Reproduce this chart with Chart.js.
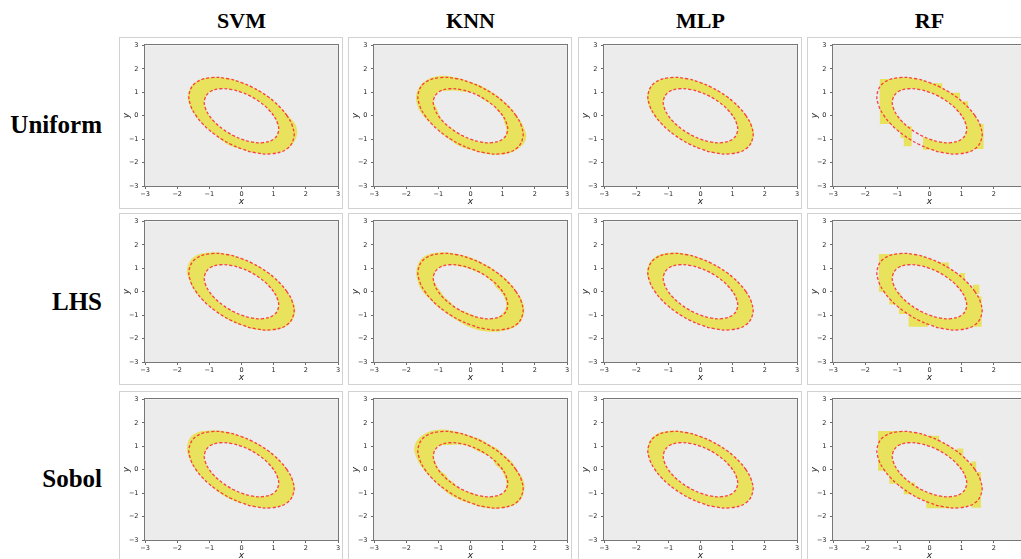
<!DOCTYPE html>
<html>
<head>
<meta charset="utf-8">
<script src="https://cdn.jsdelivr.net/npm/chart.js@4.4.0/dist/chart.umd.min.js"></script>
<style>
  html, body { margin: 0; padding: 0; background: #fff; }
  body { width: 1021px; height: 559px; position: relative; overflow: hidden; }
  .frame { position: absolute; width: 224px; height: 172px; box-sizing: border-box; border: 1px solid #d2d2d2; background: #fff; }
  .frame canvas { display: block; }
  .coltitle { position: absolute; top: 10px; width: 140px; margin-left: -70px; text-align: center;
              font: bold 22px/22px "Liberation Serif", serif; color: #000; }
  .rowlabel { position: absolute; left: 0; width: 102px; text-align: right;
              font: bold 25px/25px "Liberation Serif", serif; color: #000; }
</style>
</head>
<body>
<script>
// ---- grid labels ----
const methods  = ['SVM', 'KNN', 'MLP', 'RF'];
const samplers = ['Uniform', 'LHS', 'Sobol'];
const axisTicks = [-3, -2, -1, 0, 1, 2, 3];

// ---- true class boundaries: x^2 + xy + y^2 = 1 (inner) and = 2 (outer), every 15 degrees ----
const innerContour = [
  [1.0000, 0.0000], [0.8639, 0.2315], [0.7235, 0.4177], [0.5774, 0.5774], [0.4177, 0.7235], [0.2315, 0.8639],
  [0.0000, 1.0000], [-0.2989, 1.1154], [-0.6640, 1.1501], [-1.0000, 1.0000], [-1.1501, 0.6640], [-1.1154, 0.2989],
  [-1.0000, 0.0000], [-0.8639, -0.2315], [-0.7235, -0.4177], [-0.5774, -0.5774], [-0.4177, -0.7235], [-0.2315, -0.8639],
  [0.0000, -1.0000], [0.2989, -1.1154], [0.6640, -1.1501], [1.0000, -1.0000], [1.1501, -0.6640], [1.1154, -0.2989]
];
const outerContour = [
  [1.4142, 0.0000], [1.2217, 0.3274], [1.0232, 0.5907], [0.8165, 0.8165], [0.5907, 1.0232], [0.3274, 1.2217],
  [0.0000, 1.4142], [-0.4227, 1.5774], [-0.9390, 1.6265], [-1.4142, 1.4142], [-1.6265, 0.9390], [-1.5774, 0.4227],
  [-1.4142, 0.0000], [-1.2217, -0.3274], [-1.0232, -0.5907], [-0.8165, -0.8165], [-0.5907, -1.0232], [-0.3274, -1.2217],
  [0.0000, -1.4142], [0.4227, -1.5774], [0.9390, -1.6265], [1.4142, -1.4142], [1.6265, -0.9390], [1.5774, -0.4227]
];

// ---- predicted class-1 region: radial extent of the predicted band relative to the
//      true boundary, at the same 24 directions (order: SVM, KNN, MLP, RF) ----
const ONE = [1,1,1,1,1,1,1,1,1,1,1,1,1,1,1,1,1,1,1,1,1,1,1,1];

const uniformOuter = [
  [1.03,1,1,1,1,1,1,1.01,1.01,1.01,1.02,1.02,1.01,1,1,1,1.03,1.05,1.01,1,1,1,1.04,1.08],
  [1.02,1.02,1.02,1.03,1.03,1.04,1.02,1.03,1.04,1.02,1.03,1.05,1.04,1.0,1.0,1.02,1.03,1.06,1.03,1.02,1.02,1.02,1.06,1.04],
  [1,1,1,1,1,1,1,1,1,1,1.01,1.02,1.01,1,1,1,1,1,1,1,1,1,1.01,1.02],
  ONE
];
const uniformInner = [
  ONE,
  [1,0.97,1,0.96,0.95,1,1,0.93,0.93,1,1,0.93,0.96,1,1,0.96,1,1,1,1,1,1,0.97,0.94],
  ONE,
  ONE
];
const lhsOuter = [
  [1,1,1,1,1,1,1,1.01,1.03,1.05,1.04,1.02,1.01,1,1,1,1.01,1.02,1.01,1.02,1.01,1.01,1.02,1.02],
  [1.02,1.02,1.03,1.02,1.03,1.02,1.03,1.02,1.03,1.04,1.03,1.04,1.05,1.02,1.03,1.02,1.03,1.05,1.08,1.07,1.03,1.02,1.02,1.03],
  [1,1,1,1,1,1,1,1.01,1.02,1.02,1.02,1.01,1,1,1,1,1,1,1,1,1,1,1,1],
  ONE
];
const lhsInner = [
  ONE,
  [0.94,0.9,0.96,0.95,1,0.96,0.96,0.95,1,1,1,0.96,0.92,0.95,0.93,0.96,1,0.95,0.95,1,1,0.97,0.96,0.95],
  ONE,
  ONE
];
const sobolOuter = [
  [1,1,1,1,1,1,1,1.01,1.03,1.06,1.04,1.02,1.01,1,1,1.01,1.03,1.03,1.01,1,1,1,1.01,1.01],
  [1.02,1.05,1.03,1.06,1.03,1.05,1.02,1.03,1.05,1.05,1.07,1.05,1.03,1,1.02,1.03,1.06,1.05,1.02,1.03,1.01,1.02,1.02,1.04],
  [1,1,1,1,1,1,1,1.01,1.02,1.02,1.01,1,1,1,1,1,1,1,1,1,1,1,1,1],
  ONE
];
const sobolInner = [
  ONE,
  [0.96,0.9,0.97,1,0.96,0.92,0.97,0.95,0.92,1,1,0.97,0.97,0.9,0.95,0.93,1,1,0.97,1,1,1,0.97,0.95],
  ONE,
  ONE
];

// ---- blocky random-forest cells [x1, y1, x2, y2] ----
const uniformRfYellow = [
  [-1.55, -0.35, -1.25, 1.57], [-1.55, 1.2, -0.85, 1.57],
  [-0.9, -0.95, -0.55, -0.45], [-0.8, -1.3, -0.55, -0.95],
  [1.35, -1.42, 1.68, -0.35], [-0.2, -1.45, 0.1, -1.0],
  [0.05, 1.1, 0.4, 1.38], [0.65, 0.75, 0.95, 0.98], [1.0, 0.35, 1.2, 0.62]
];
const uniformRfGray = [
  [-1.75, -0.5, -1.55, 1.7], [-0.55, -1.35, -0.2, -0.55]
];
const lhsRfYellow = [
  [-1.58, 0.0, -1.25, 1.6], [-1.58, 1.2, -0.85, 1.6],
  [-1.25, -0.55, -0.9, -0.05], [-0.95, -0.95, -0.6, -0.5], [-0.65, -1.5, -0.05, -1.0],
  [1.3, -1.5, 1.62, -0.2], [0.3, 0.95, 0.6, 1.25], [0.95, 0.5, 1.1, 0.8], [1.35, -0.1, 1.55, 0.3]
];
const lhsRfGray = [
  [-1.75, -0.2, -1.58, 1.7]
];
const sobolRfYellow = [
  [-1.6, -0.05, -1.3, 1.65], [-1.6, 1.2, -0.9, 1.65],
  [0.0, 1.15, 0.3, 1.45], [0.85, 0.6, 1.05, 0.9], [1.3, -0.1, 1.45, 0.35],
  [-1.25, -0.6, -0.95, -0.1], [-0.8, -1.05, -0.45, -0.55], [-0.1, -1.65, 0.75, -1.25],
  [1.3, -1.62, 1.6, -0.1]
];
const sobolRfGray = [
  [-1.78, -0.1, -1.6, 1.7]
];

const rowData = [
  { outer: uniformOuter, inner: uniformInner, rfYellow: uniformRfYellow, rfGray: uniformRfGray },
  { outer: lhsOuter,     inner: lhsInner,     rfYellow: lhsRfYellow,     rfGray: lhsRfGray },
  { outer: sobolOuter,   inner: sobolInner,   rfYellow: sobolRfYellow,   rfGray: sobolRfGray }
];

// ---- styling ----
const BG = '#ececec';
const YELLOW = '#e8e25c';
const RED = 'rgba(250, 45, 60, 0.9)';
const frameLeft = [119, 348, 578, 807];
const frameTop = [37, 213, 391];

const scaled = (pts, f) => pts.map((p, i) => ({ x: p[0] * f[i], y: p[1] * f[i] }));
const closed = pts => pts.concat([pts[0]]);
const rectPts = r => [
  { x: r[0], y: r[1] }, { x: r[2], y: r[1] }, { x: r[2], y: r[3] }, { x: r[0], y: r[3] }, { x: r[0], y: r[1] }
];

function fillSet(data, color, order, tension) {
  return { data, showLine: true, fill: 'shape', backgroundColor: color, borderWidth: 0,
           borderColor: color, pointRadius: 0, tension, order };
}
function contourSet(pts) {
  const p = pts.map(q => ({ x: q[0], y: q[1] }));
  const n = p.length;
  const data = [p[n - 1]].concat(p, [p[0], p[1]]);
  const last = data.length - 2;
  return {
    data, showLine: true, fill: false, borderColor: RED, borderWidth: 1.3, borderDash: [3, 2],
    pointRadius: 0, tension: 0.4, order: 0,
    segment: { borderColor: c => (c.p0DataIndex === 0 || c.p0DataIndex === last) ? 'rgba(0,0,0,0)' : undefined }
  };
}

function axis(isX) {
  return {
    type: 'linear', min: -3, max: 3, position: isX ? 'bottom' : 'left',
    afterBuildTicks: s => { s.ticks = axisTicks.map(v => ({ value: v })); },
    ticks: { font: { family: 'DejaVu Sans', size: 6.5 }, color: '#222', padding: isX ? 1 : 3.5,
             maxRotation: 0, autoSkip: false, callback: v => String(v).replace('-', '\u2212') },
    grid: { display: true, drawOnChartArea: false, drawTicks: true, tickLength: 3, tickColor: '#444', tickWidth: 0.8 },
    border: { display: false },
    title: { display: true, text: isX ? 'x' : 'y', color: '#222',
             font: { family: 'DejaVu Sans', size: 9, style: 'italic' },
             padding: isX ? { top: 0, bottom: 1 } : { top: 1.3, bottom: 0 } },
    afterFit: s => { if (isX) s.height = 22; else s.width = 25; }
  };
}

const plotFrame = {
  id: 'plotFrame',
  beforeDraw(chart) {
    const a = chart.chartArea, ctx = chart.ctx;
    ctx.save(); ctx.fillStyle = BG; ctx.fillRect(a.left, a.top, a.right - a.left, a.bottom - a.top); ctx.restore();
  },
  afterDatasetsDraw(chart) {
    const a = chart.chartArea, ctx = chart.ctx;
    ctx.save(); ctx.strokeStyle = '#777'; ctx.lineWidth = 1;
    ctx.strokeRect(Math.round(a.left) - 0.5, Math.round(a.top) - 0.5,
                   Math.round(a.right - a.left) + 1, Math.round(a.bottom - a.top) + 1);
    ctx.restore();
  }
};

// ---- titles ----
methods.forEach((m, c) => {
  const d = document.createElement('div');
  d.className = 'coltitle'; d.textContent = m;
  d.style.left = (frameLeft[c] + 122.5) + 'px';
  document.body.appendChild(d);
});
const rowLabelTop = [112, 289, 466];
samplers.forEach((s, r) => {
  const d = document.createElement('div');
  d.className = 'rowlabel'; d.textContent = s;
  d.style.top = rowLabelTop[r] + 'px';
  document.body.appendChild(d);
});

// ---- panels ----
samplers.forEach((s, r) => {
  methods.forEach((m, c) => {
    const frame = document.createElement('div');
    frame.className = 'frame';
    frame.style.left = frameLeft[c] + 'px';
    frame.style.top = frameTop[r] + 'px';
    const cv = document.createElement('canvas');
    cv.width = 222; cv.height = 170;
    cv.style.width = '222px'; cv.style.height = '170px';
    frame.appendChild(cv);
    document.body.appendChild(frame);

    const rd = rowData[r];
    const datasets = [
      fillSet(closed(scaled(outerContour, rd.outer[c])), YELLOW, 4, 0.4),
      fillSet(closed(scaled(innerContour, rd.inner[c])), BG, 3, 0.4)
    ];
    if (m === 'RF') {
      rd.rfYellow.forEach(b => datasets.push(fillSet(rectPts(b), YELLOW, 2, 0)));
      rd.rfGray.forEach(b => datasets.push(fillSet(rectPts(b), BG, 1, 0)));
    }
    datasets.push(contourSet(outerContour));
    datasets.push(contourSet(innerContour));

    new Chart(cv, {
      type: 'scatter',
      data: { datasets },
      options: {
        responsive: false, animation: false, devicePixelRatio: 1,
        layout: { padding: { left: 0, top: 5, right: 4, bottom: 0 } },
        plugins: { legend: { display: false }, tooltip: { enabled: false } },
        scales: { x: axis(true), y: axis(false) }
      },
      plugins: [plotFrame]
    });
  });
});
</script>
</body>
</html>
